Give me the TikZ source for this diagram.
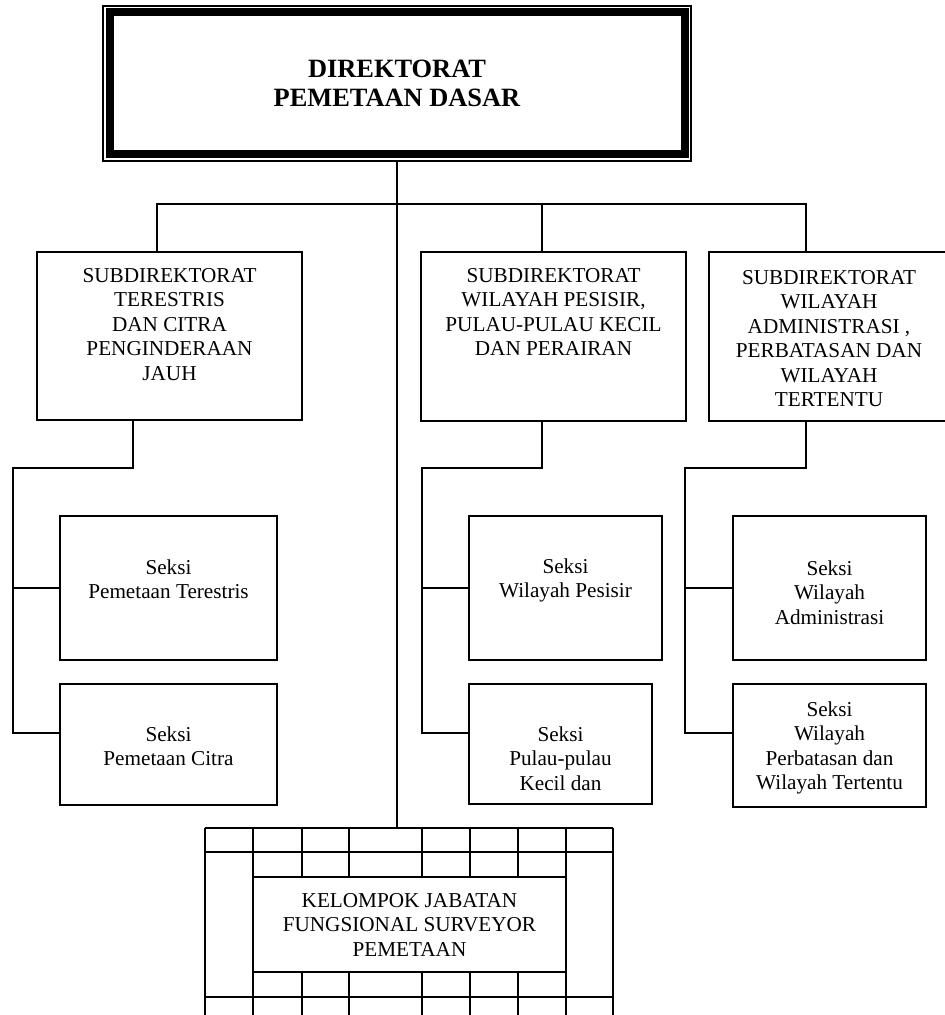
\documentclass[tikz,border=0pt]{standalone}
\usepackage{fontspec}
\setmainfont{Liberation Serif}
\usetikzlibrary{calc}

\tikzset{
  box/.style={draw, line width=0.8pt, inner sep=0pt, outer sep=0pt},
  boxtext/.style={anchor=north, align=center, inner sep=0pt, font=\fontsize{10.6}{12.25}\selectfont},
  line/.style={line width=0.8pt},
}

\begin{document}
\begin{tikzpicture}[x=0.5pt,y=-0.5pt]
\useasboundingbox (0,0) rectangle (945,1015);
\clip (0,0) rectangle (945,1015);

% direktorat
\node[box, line width=0.6pt, minimum width=294pt, minimum height=77.5pt, align=center, font=\fontsize{13.2}{14.5}\selectfont\bfseries] (dir) at (397,83.5) {DIREKTORAT\\PEMETAAN DASAR};
\draw[line width=4pt] ($(dir.north west)+(6.5,6.5)$) rectangle ($(dir.south east)+(-6.5,-6.5)$);

% subdirektorat
\node[box, minimum width=132.5pt, minimum height=84pt] (sub1) at (169.5,336) {};
\node[box, minimum width=132.5pt, minimum height=84.5pt] (sub2) at (553.5,336.5) {};
\node[box, minimum width=120pt, minimum height=84.5pt] (sub3) at (829,336.5) {};
\node[boxtext] (tsub1) at ($(sub1.north)+(0,16)$) {SUBDIREKTORAT\\TERESTRIS\\DAN CITRA\\PENGINDERAAN\\JAUH};
\node[boxtext] (tsub2) at ($(sub2.north)+(0,16)$) {SUBDIREKTORAT\\WILAYAH PESISIR,\\PULAU-PULAU KECIL\\DAN PERAIRAN};
\node[boxtext] (tsub3) at ($(sub3.north)+(0,18)$) {SUBDIREKTORAT\\WILAYAH\\ADMINISTRASI ,\\PERBATASAN DAN\\WILAYAH\\TERTENTU};

% seksi
\node[box, minimum width=108.5pt, minimum height=72pt] (s11) at (168.5,588) {};
\node[box, minimum width=108.5pt, minimum height=60.5pt] (s12) at (168.5,744.5) {};
\node[box, minimum width=96.5pt, minimum height=72pt] (s21) at (565.5,588) {};
\node[box, minimum width=91.5pt, minimum height=60pt] (s22) at (560.5,744) {};
\node[box, minimum width=96.5pt, minimum height=72pt] (s31) at (829.5,588) {};
\node[box, minimum width=96.5pt, minimum height=61.5pt] (s32) at (829.5,745.5) {};
\node[boxtext] (ts11) at ($(s11.north)+(0,43)$) {Seksi\\Pemetaan Terestris};
\node[boxtext] (ts12) at ($(s12.north)+(0,42)$) {Seksi\\Pemetaan Citra};
\node[boxtext] (ts21) at ($(s21.north)+(0,42)$) {Seksi\\Wilayah Pesisir};
\node[boxtext] (ts22) at ($(s22.north)+(0,42)$) {Seksi\\Pulau-pulau\\Kecil dan};
\node[boxtext] (ts31) at ($(s31.north)+(0,44)$) {Seksi\\Wilayah\\Administrasi};
\node[boxtext] (ts32) at ($(s32.north)+(0,17)$) {Seksi\\Wilayah\\Perbatasan dan\\Wilayah Tertentu};

% bagan garis
\coordinate (busL) at (157,204);
\coordinate (busM) at (542,204);
\coordinate (busR) at (806,204);
\coordinate (gtop) at (397,828);
\draw[line] (dir.south) -- (gtop);
\draw[line] (busL |- sub1.north) -- (busL) -- (busR) -- (busR |- sub3.north);
\draw[line] (busM) -- (busM |- sub2.north);

\coordinate (d1) at (133,468);
\coordinate (sp1) at (13,468);
\coordinate (e1) at (13,733);
\draw[line] (sub1.south -| d1) -- (d1) -- (sp1) -- (e1) -- (e1 -| s12.west);
\draw[line] (sp1 |- s11.west) -- (s11.west);

\coordinate (d2) at (542,468);
\coordinate (sp2) at (422,468);
\coordinate (e2) at (422,733);
\draw[line] (sub2.south -| d2) -- (d2) -- (sp2) -- (e2) -- (e2 -| s22.west);
\draw[line] (sp2 |- s21.west) -- (s21.west);

\coordinate (d3) at (806,468);
\coordinate (sp3) at (685,468);
\coordinate (e3) at (685,733);
\draw[line] (sub3.south -| d3) -- (d3) -- (sp3) -- (e3) -- (e3 -| s32.west);
\draw[line] (sp3 |- s31.west) -- (s31.west);

% kelompok jabatan fungsional
\foreach \x in {205,253,302,349,422,470,518,566,613}
  \draw[line] (\x,828) -- (\x,1020);
\foreach \y in {828,852,997}
  \draw[line] (205,\y) -- (613,\y);
\node[box, fill=white, minimum width=156.5pt, minimum height=47.5pt, align=center, font=\fontsize{10.6}{12.25}\selectfont] (kel) at (409.5,924.5) {KELOMPOK JABATAN\\FUNGSIONAL SURVEYOR\\PEMETAAN};
\end{tikzpicture}
\end{document}
